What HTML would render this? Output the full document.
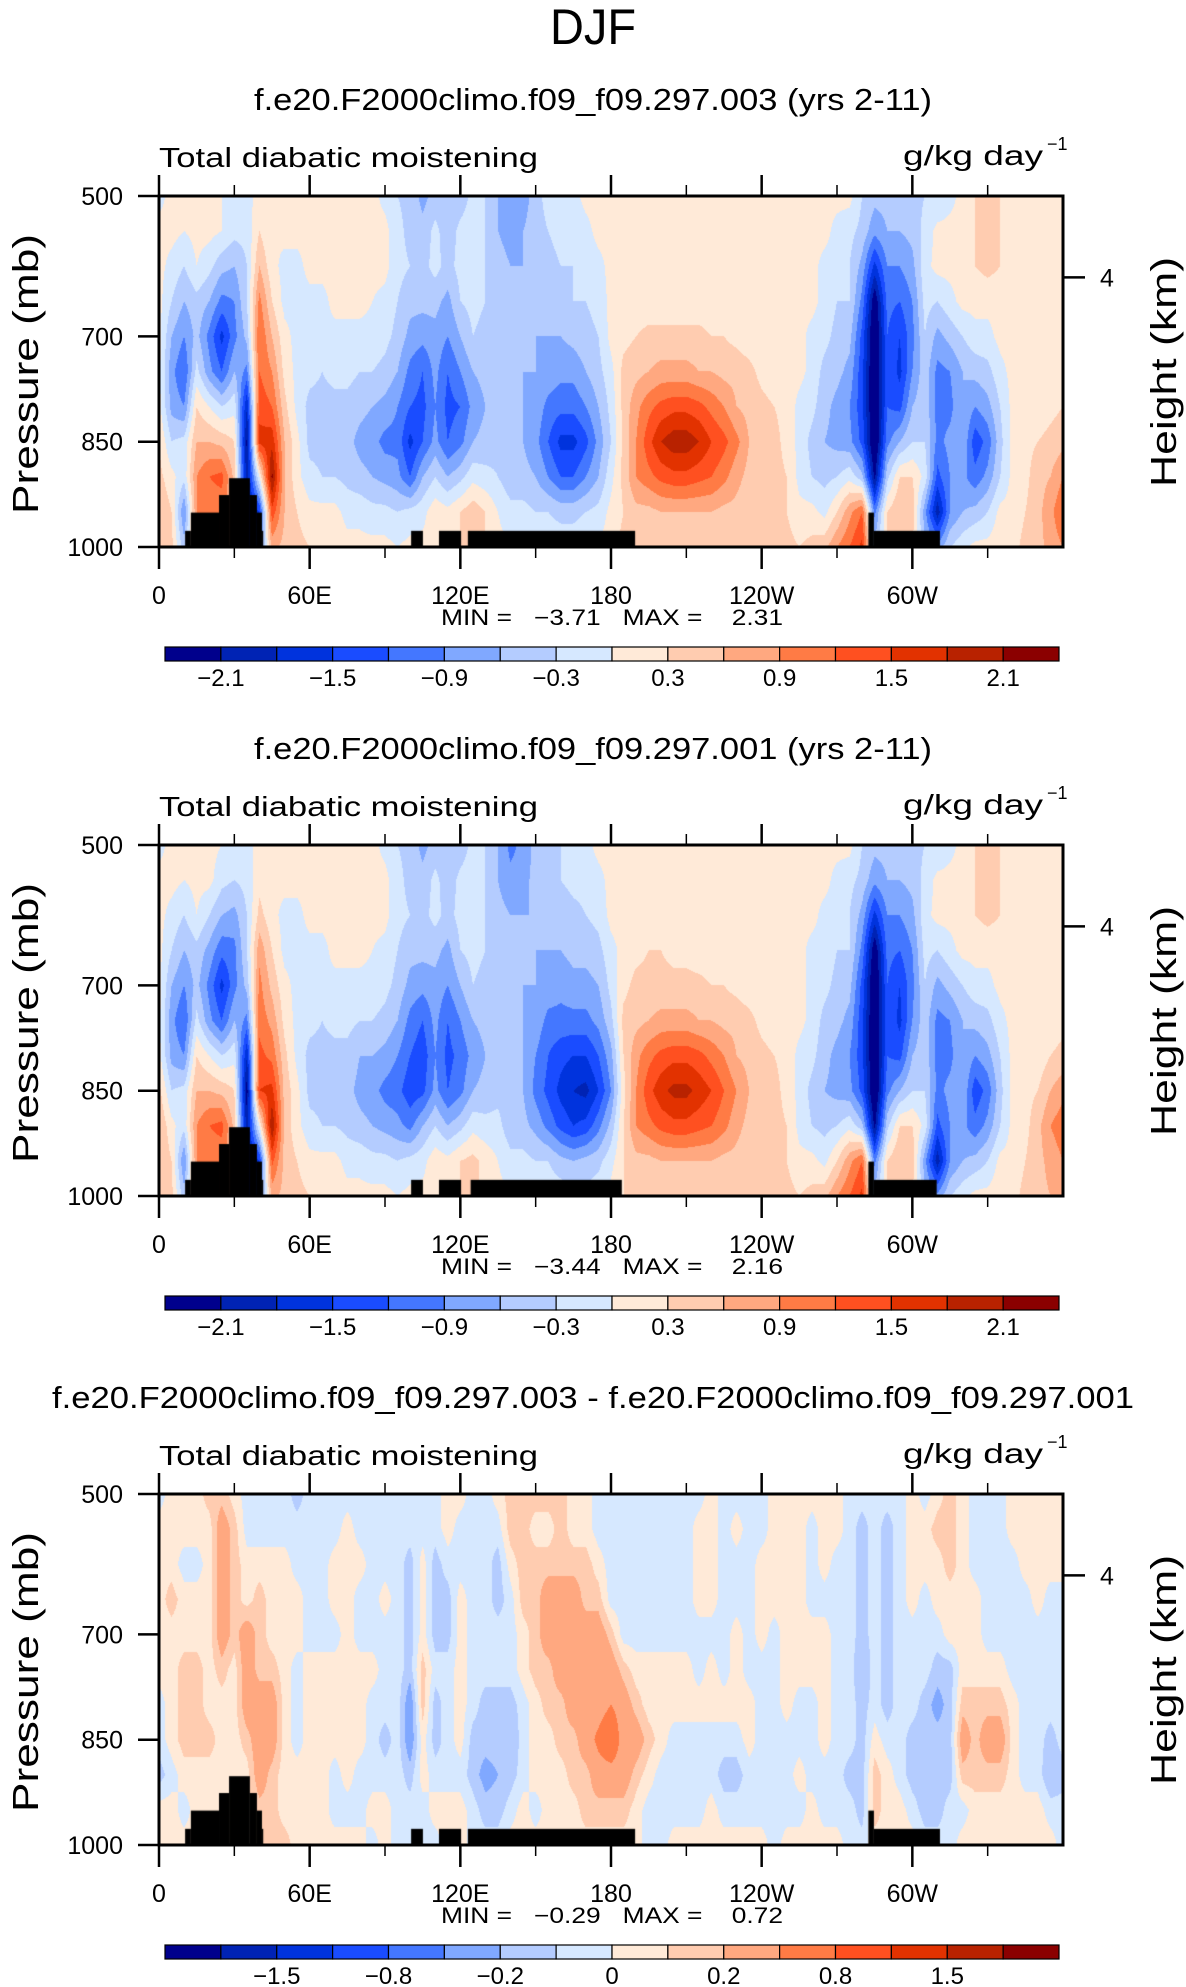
<!DOCTYPE html>
<html><head><meta charset="utf-8">
<style>
html,body{margin:0;padding:0;background:#fff;}
#root{position:relative;width:1186px;height:1987px;overflow:hidden;background:#fff;}
canvas{position:absolute;}
svg{position:absolute;left:0;top:0;}
text{font-family:"Liberation Sans",sans-serif;fill:#000;}
</style></head>
<body>
<div id="root">
<canvas id="c1"></canvas>
<canvas id="c2"></canvas>
<canvas id="c3"></canvas>
<svg id="ov" width="1186" height="1987">
<text x="593" y="44" text-anchor="middle" font-size="50" textLength="86" lengthAdjust="spacingAndGlyphs" style="font-weight:300">DJF</text>
</svg>
</div>
<script>
// ---------- data ----------
const pressureLevels = [500,550,600,650,700,750,800,850,900,950,1000];
const gridLonStep = 5;
const levelsMain = [-2.1,-1.8,-1.5,-1.2,-0.9,-0.6,-0.3,0,0.3,0.6,0.9,1.2,1.5,1.8,2.1];
const levelsDiff = [-2,-1.5,-1,-0.8,-0.4,-0.2,-0.1,0,0.1,0.2,0.4,0.8,1,1.5,2];
const cbLabelsMain = ["−2.1","−1.5","−0.9","−0.3","0.3","0.9","1.5","2.1"];
const cbLabelIdxMain = [0,2,4,6,8,10,12,14];
const cbLabelsDiff = ["−1.5","−0.8","−0.2","0","0.2","0.8","1.5"];
const cbLabelIdxDiff = [1,3,5,7,9,11,13];
const colors = ["#00008c","#0023b4","#0033dd","#1a4cff","#4477ff","#80a8ff","#b4ccff","#d6e8ff","#ffead8","#ffccb0","#ffa880","#ff7b45","#ff5020","#e23200","#b82200","#8b0000"];
const xTickLons = [0,60,120,180,240,300];
const xTickLabels = ["0","60E","120E","180","120W","60W"];
const xMinorLons = [30,90,150,210,270,330];
const yTickP = [500,700,850,1000];
const yTickLabels = ["500","700","850","1000"];
const heightTickP = [616];
const heightTickLabels = ["4"];
const titles = ["f.e20.F2000climo.f09_f09.297.003 (yrs 2-11)","f.e20.F2000climo.f09_f09.297.001 (yrs 2-11)","f.e20.F2000climo.f09_f09.297.003 - f.e20.F2000climo.f09_f09.297.001"];
const minVals = ["−3.71","−3.44","−0.29"];
const maxVals = ["2.31","2.16","0.72"];

// terrain: [lonStart, lonEnd, topPressure]
const terrain1 = [[10.4,12.7,977],[12.7,23.9,951],[23.9,27.9,926],[27.9,36.2,902],[36.2,39,926],[39,41,951],[41,41.5,977],[100.4,105.1,977],[111.5,120.3,977],[123,189.6,977],[282.5,284.7,951],[284.7,311,977]];
const terrain2 = [[10.4,12.7,977],[12.7,23.9,951],[23.9,27.9,926],[27.9,36.2,902],[36.2,39,926],[39,41,951],[41,41.5,977],[100.4,105.1,977],[111.5,120.3,977],[124.1,184.3,977],[282.5,284.7,951],[284.7,309.7,977]];
const terrain3 = terrain1;

// fields: one vertical profile (500..1000 mb) per 5 deg of longitude, 0..360
const field1 = [
[-0.1,0.1,0.1,0.1,0.1,0.1,0.1,0.3,0.4,0.6,0.6],
[0.1,0.1,-0.1,-0.3,-0.6,-0.8,-0.7,-0.3,0.1,0.3,0.4],
[0.1,0.0,-0.3,-0.6,-0.9,-1.2,-0.9,-0.2,-0.2,-0.9,-0.5],
[0.1,0.1,0.0,-0.4,-0.5,-0.2,0.3,0.6,0.9,0.9,0.9],
[0.1,0.1,-0.2,-0.6,-1.0,-0.8,0.0,0.6,1.2,1.0,1.0],
[0.0,0.0,-0.5,-1.0,-1.6,-1.2,-0.3,0.5,1.3,1.0,1.0],
[-0.1,-0.2,-0.6,-0.9,-1.0,-0.6,-0.1,0.3,0.5,0.5,0.5],
[-0.1,-0.2,-0.3,-0.3,-0.5,-1.0,-1.8,-2.2,-2.0,-2.0,-2.0],
[0.1,0.3,0.6,1.0,1.2,1.2,1.4,1.6,0.0,-1.5,-1.0],
[0.0,0.0,0.1,0.3,0.6,0.9,1.2,1.7,2.2,1.4,0.7],
[0.1,0.1,-0.1,-0.1,0.1,0.2,0.4,0.6,0.6,0.6,0.5],
[0.1,0.1,-0.1,-0.1,-0.1,-0.1,-0.1,0.1,0.1,0.3,0.4],
[0.1,0.1,0.1,-0.1,-0.1,-0.2,-0.4,-0.4,-0.2,0.1,0.3],
[0.1,0.1,0.1,-0.1,-0.1,-0.3,-0.4,-0.4,-0.3,0.1,0.2],
[0.1,0.1,0.1,0.1,-0.1,-0.2,-0.4,-0.4,-0.3,0.1,0.2],
[0.1,0.1,0.1,0.1,-0.1,-0.2,-0.4,-0.5,-0.4,-0.1,0.1],
[0.1,0.1,0.1,0.1,-0.1,-0.3,-0.5,-0.7,-0.5,-0.1,0.1],
[0.1,0.1,0.1,0.0,-0.1,-0.3,-0.6,-0.8,-0.6,-0.2,0.1],
[-0.1,0.1,0.1,-0.1,-0.2,-0.4,-0.7,-1.0,-0.7,-0.2,0.1],
[-0.3,-0.2,-0.2,-0.3,-0.4,-0.6,-0.9,-1.0,-0.8,-0.3,0.0],
[-0.4,-0.4,-0.3,-0.5,-0.7,-1.0,-1.2,-1.6,-1.2,-0.2,0.1],
[-0.7,-0.5,-0.4,-0.5,-0.8,-1.2,-1.3,-1.2,-0.6,-0.1,0.1],
[-0.5,-0.2,-0.2,-0.5,-0.7,-0.8,-0.9,-0.8,-0.3,0.2,0.1],
[-0.6,-0.5,-0.4,-0.7,-0.9,-1.2,-1.3,-1.2,-0.6,0.1,0.2],
[-0.5,-0.2,-0.2,-0.3,-0.6,-0.9,-1.2,-1.0,-0.4,0.3,0.3],
[-0.2,-0.1,-0.1,-0.2,-0.3,-0.6,-0.8,-0.6,-0.1,0.5,0.5],
[-0.3,-0.3,-0.3,-0.3,-0.4,-0.5,-0.6,-0.5,-0.2,0.3,0.3],
[-0.6,-0.6,-0.5,-0.4,-0.4,-0.4,-0.5,-0.4,-0.3,0.0,0.1],
[-0.9,-0.7,-0.6,-0.6,-0.6,-0.6,-0.6,-0.6,-0.5,-0.2,0.0],
[-0.8,-0.6,-0.6,-0.6,-0.6,-0.6,-0.6,-0.6,-0.5,-0.2,0.0],
[-0.4,-0.4,-0.6,-0.6,-0.6,-0.6,-0.7,-0.8,-0.6,-0.3,-0.1],
[-0.2,-0.3,-0.4,-0.5,-0.6,-0.7,-1.0,-1.2,-0.9,-0.3,-0.1],
[-0.2,-0.2,-0.3,-0.4,-0.6,-0.8,-1.1,-1.6,-1.2,-0.4,-0.1],
[-0.1,-0.2,-0.3,-0.3,-0.5,-0.8,-1.1,-1.6,-1.2,-0.4,-0.1],
[0.1,-0.1,-0.2,-0.3,-0.4,-0.6,-0.9,-1.3,-0.9,-0.3,0.0],
[0.1,0.1,-0.1,-0.2,-0.3,-0.4,-0.6,-0.8,-0.6,-0.2,0.0],
[0.1,0.1,0.1,0.1,0.1,-0.1,-0.2,-0.3,-0.1,0.1,0.2],
[0.1,0.1,0.1,0.1,0.2,0.4,0.4,0.4,0.4,0.3,0.4],
[0.1,0.1,0.1,0.1,0.3,0.5,0.8,0.9,0.9,0.5,0.5],
[0.1,0.1,0.1,0.1,0.4,0.6,1.1,1.4,1.1,0.5,0.5],
[0.1,0.1,0.1,0.1,0.4,0.7,1.3,1.8,1.3,0.6,0.3],
[0.1,0.1,0.1,0.1,0.4,0.7,1.4,2.0,1.4,0.6,0.3],
[0.1,0.1,0.1,0.1,0.4,0.7,1.4,2.0,1.4,0.6,0.4],
[0.1,0.1,0.1,0.1,0.4,0.6,1.3,1.8,1.3,0.6,0.5],
[0.1,0.1,0.1,0.1,0.3,0.6,1.1,1.5,1.2,0.6,0.5],
[0.1,0.1,0.1,0.1,0.3,0.5,0.9,1.3,1.0,0.5,0.5],
[0.1,0.1,0.1,0.1,0.2,0.5,0.6,1.0,0.7,0.5,0.5],
[0.1,0.1,0.1,0.1,0.1,0.4,0.5,0.6,0.5,0.4,0.5],
[0.1,0.1,0.1,0.1,0.1,0.2,0.4,0.5,0.5,0.4,0.4],
[0.1,0.1,0.1,0.1,0.1,0.1,0.3,0.4,0.4,0.3,0.4],
[0.1,0.1,0.1,0.1,0.1,0.1,0.2,0.2,0.3,0.3,0.4],
[0.1,0.1,0.1,0.1,0.1,0.1,-0.1,-0.1,-0.1,0.1,0.3],
[0.1,0.1,0.1,0.1,-0.1,-0.1,-0.2,-0.4,-0.3,0.1,0.4],
[0.1,0.1,-0.1,-0.1,-0.2,-0.4,-0.5,-0.6,-0.4,-0.1,0.5],
[0.1,-0.1,-0.1,-0.3,-0.4,-0.5,-0.7,-0.7,-0.3,0.3,0.9],
[0.1,-0.2,-0.3,-0.3,-0.5,-0.7,-0.9,-0.8,-0.1,0.8,1.2],
[-0.3,-0.4,-0.7,-1.0,-1.3,-1.4,-1.4,-1.3,-0.5,1.2,1.6],
[-0.5,-0.8,-1.6,-2.4,-2.6,-2.6,-2.6,-2.6,-2.2,-1.0,-0.5],
[-0.5,-0.6,-0.9,-1.1,-1.2,-1.2,-1.2,-1.0,-0.4,0.3,0.3],
[-0.4,-0.6,-0.9,-1.2,-1.5,-1.6,-1.3,-0.6,0.3,0.6,0.5],
[-0.4,-0.5,-0.7,-0.9,-1.0,-0.9,-0.6,-0.3,0.3,0.5,0.3],
[-0.3,-0.2,-0.1,-0.2,-0.3,-0.4,-0.4,-0.3,-0.1,-0.8,-0.5],
[-0.3,0.1,0.1,-0.3,-0.7,-1.0,-1.0,-1.0,-1.3,-2.0,-0.8],
[-0.1,0.1,0.1,-0.1,-0.5,-0.9,-1.0,-0.8,-0.9,-0.9,-0.3],
[0.1,0.1,0.1,0.1,-0.3,-0.6,-0.6,-0.6,-0.8,-0.6,-0.1],
[0.3,0.3,0.3,0.1,-0.1,-0.5,-0.9,-1.4,-1.1,-0.5,0.1],
[0.4,0.4,0.4,0.1,-0.1,-0.4,-0.7,-1.1,-0.8,-0.3,0.1],
[0.3,0.3,0.3,0.1,0.1,-0.1,-0.3,-0.4,-0.3,0.1,0.2],
[0.1,0.1,0.1,0.1,0.1,0.1,0.1,0.1,0.1,0.1,0.2],
[0.1,0.1,0.1,0.1,0.1,0.1,0.1,0.2,0.2,0.3,0.4],
[0.1,0.1,0.1,0.1,0.1,0.1,0.1,0.3,0.5,0.5,0.5],
[0.1,0.1,0.1,0.1,0.1,0.1,0.2,0.4,0.6,0.8,0.7],
[0.1,0.1,0.1,0.1,0.1,0.1,0.3,0.5,0.9,1.2,0.9]
];
const field2 = [
[-0.1,0.1,0.1,0.1,0.1,0.1,0.1,0.4,0.6,0.6,0.6],
[0.1,0.1,-0.1,-0.3,-0.6,-0.8,-0.7,-0.3,0.1,0.3,0.4],
[0.1,0.0,-0.3,-0.6,-0.9,-1.2,-0.9,-0.2,-0.2,-0.9,-0.5],
[0.1,0.1,0.0,-0.4,-0.5,-0.2,0.3,0.6,0.9,0.9,0.9],
[0.1,0.1,-0.3,-0.7,-1.0,-0.8,0.0,0.6,1.2,1.0,1.0],
[0.0,-0.2,-0.6,-1.1,-1.6,-1.2,-0.3,0.5,1.3,1.0,1.0],
[-0.1,-0.3,-0.7,-1.0,-1.0,-0.6,-0.1,0.3,0.5,0.5,0.5],
[-0.1,-0.2,-0.3,-0.3,-0.5,-1.0,-1.8,-2.3,-2.0,-2.0,-2.0],
[0.1,0.2,0.4,0.8,1.0,1.1,1.3,1.5,0.0,-1.5,-1.0],
[0.1,0.1,0.1,0.3,0.5,0.8,1.1,1.6,2.1,1.3,0.7],
[0.1,0.1,-0.1,-0.1,0.1,0.2,0.4,0.5,0.5,0.5,0.5],
[0.1,0.1,-0.1,-0.1,-0.1,-0.1,-0.1,0.1,0.1,0.3,0.4],
[0.1,0.1,0.1,-0.1,-0.1,-0.2,-0.4,-0.4,-0.2,0.1,0.3],
[0.1,0.1,0.1,-0.1,-0.1,-0.3,-0.4,-0.4,-0.3,0.1,0.2],
[0.1,0.1,0.1,0.1,-0.1,-0.2,-0.4,-0.4,-0.3,0.1,0.2],
[0.1,0.1,0.1,0.1,-0.1,-0.2,-0.4,-0.5,-0.4,-0.1,0.1],
[0.1,0.1,0.1,0.1,-0.1,-0.3,-0.6,-0.7,-0.5,-0.1,0.1],
[0.1,0.1,0.1,0.0,-0.1,-0.3,-0.6,-0.8,-0.6,-0.2,0.1],
[-0.1,0.1,0.1,-0.1,-0.2,-0.4,-0.7,-1.0,-0.7,-0.2,0.1],
[-0.3,-0.2,-0.2,-0.3,-0.4,-0.6,-0.9,-1.1,-0.8,-0.3,0.0],
[-0.4,-0.4,-0.3,-0.5,-0.7,-1.0,-1.2,-1.4,-1.0,-0.2,0.1],
[-0.7,-0.5,-0.4,-0.5,-0.8,-1.2,-1.4,-1.3,-0.6,-0.1,0.1],
[-0.5,-0.2,-0.2,-0.5,-0.7,-0.8,-0.9,-0.8,-0.3,0.2,0.1],
[-0.6,-0.5,-0.4,-0.7,-0.9,-1.2,-1.3,-1.2,-0.6,0.1,0.2],
[-0.5,-0.2,-0.2,-0.3,-0.6,-0.9,-1.1,-1.0,-0.4,0.3,0.3],
[-0.2,-0.1,-0.1,-0.2,-0.3,-0.6,-0.8,-0.6,-0.1,0.4,0.4],
[-0.3,-0.3,-0.3,-0.3,-0.4,-0.5,-0.6,-0.5,-0.2,0.2,0.2],
[-0.6,-0.6,-0.5,-0.4,-0.4,-0.4,-0.5,-0.4,-0.2,0.0,0.1],
[-1.0,-0.8,-0.6,-0.6,-0.6,-0.6,-0.6,-0.5,-0.5,-0.2,0.0],
[-0.8,-0.7,-0.6,-0.6,-0.6,-0.6,-0.6,-0.6,-0.5,-0.2,0.0],
[-0.5,-0.5,-0.6,-0.6,-0.6,-0.7,-0.9,-1.0,-0.7,-0.3,-0.1],
[-0.3,-0.4,-0.5,-0.6,-0.7,-1.0,-1.2,-1.3,-1.0,-0.3,-0.1],
[-0.3,-0.3,-0.5,-0.6,-0.8,-1.0,-1.4,-1.6,-1.3,-0.5,-0.1],
[-0.2,-0.2,-0.4,-0.5,-0.7,-1.0,-1.5,-1.8,-1.5,-0.6,-0.2],
[-0.1,-0.2,-0.3,-0.5,-0.7,-1.0,-1.5,-1.9,-1.4,-0.5,-0.2],
[0.1,-0.1,-0.2,-0.4,-0.6,-0.8,-1.2,-1.5,-1.0,-0.4,-0.1],
[0.1,0.1,0.1,-0.1,-0.2,-0.4,-0.7,-0.9,-0.5,-0.1,0.1],
[0.1,0.1,0.1,0.1,0.2,0.4,0.3,0.2,0.3,0.3,0.3],
[0.1,0.1,0.1,0.2,0.4,0.5,0.8,0.9,0.9,0.5,0.5],
[0.1,0.1,0.1,0.3,0.4,0.6,1.1,1.4,1.1,0.5,0.5],
[0.1,0.1,0.1,0.3,0.4,0.7,1.3,1.7,1.3,0.6,0.4],
[0.1,0.1,0.1,0.2,0.4,0.7,1.4,1.9,1.4,0.6,0.4],
[0.1,0.1,0.1,0.2,0.4,0.7,1.4,1.9,1.4,0.6,0.4],
[0.1,0.1,0.1,0.1,0.4,0.6,1.3,1.7,1.3,0.6,0.5],
[0.1,0.1,0.1,0.1,0.3,0.6,1.1,1.5,1.2,0.6,0.5],
[0.1,0.1,0.1,0.1,0.3,0.5,0.9,1.2,1.0,0.5,0.5],
[0.1,0.1,0.1,0.1,0.2,0.5,0.6,0.9,0.7,0.5,0.5],
[0.1,0.1,0.1,0.1,0.1,0.4,0.5,0.6,0.5,0.4,0.5],
[0.1,0.1,0.1,0.1,0.1,0.2,0.4,0.5,0.5,0.4,0.4],
[0.1,0.1,0.1,0.1,0.1,0.1,0.3,0.4,0.4,0.3,0.4],
[0.1,0.1,0.1,0.1,0.1,0.1,0.2,0.2,0.3,0.3,0.4],
[0.1,0.1,0.1,0.1,0.1,0.1,-0.1,-0.1,-0.1,0.1,0.3],
[0.1,0.1,0.1,-0.1,-0.1,-0.1,-0.2,-0.4,-0.3,0.1,0.4],
[0.1,0.1,-0.1,-0.1,-0.2,-0.4,-0.5,-0.6,-0.4,-0.1,0.5],
[0.1,-0.1,-0.1,-0.3,-0.4,-0.5,-0.7,-0.7,-0.3,0.3,0.9],
[0.1,-0.2,-0.3,-0.3,-0.5,-0.7,-0.9,-0.8,-0.1,0.8,1.2],
[-0.3,-0.4,-0.7,-1.0,-1.3,-1.4,-1.4,-1.3,-0.5,1.2,1.6],
[-0.5,-0.8,-1.6,-2.4,-2.6,-2.6,-2.6,-2.6,-2.2,-1.0,-0.5],
[-0.5,-0.6,-0.9,-1.1,-1.2,-1.2,-1.2,-1.0,-0.4,0.3,0.3],
[-0.4,-0.6,-0.9,-1.2,-1.5,-1.6,-1.3,-0.6,0.3,0.6,0.5],
[-0.4,-0.5,-0.7,-0.9,-1.0,-0.9,-0.6,-0.3,0.3,0.5,0.3],
[-0.3,-0.2,-0.1,-0.2,-0.3,-0.4,-0.4,-0.3,-0.1,-0.8,-0.5],
[-0.3,0.1,0.1,-0.3,-0.7,-1.0,-1.0,-1.0,-1.3,-2.0,-0.8],
[-0.1,0.1,0.1,-0.1,-0.5,-0.9,-1.0,-0.8,-0.9,-0.9,-0.3],
[0.1,0.1,0.1,0.1,-0.3,-0.6,-0.6,-0.6,-0.8,-0.6,-0.1],
[0.3,0.3,0.3,0.1,-0.1,-0.5,-0.9,-1.4,-1.1,-0.5,0.1],
[0.4,0.4,0.4,0.1,-0.1,-0.4,-0.7,-1.1,-0.8,-0.3,0.1],
[0.3,0.3,0.3,0.1,0.1,-0.1,-0.3,-0.4,-0.3,0.1,0.2],
[0.1,0.1,0.1,0.1,0.1,0.1,0.1,0.1,0.1,0.1,0.2],
[0.1,0.1,0.1,0.1,0.1,0.1,0.1,0.2,0.2,0.3,0.4],
[0.1,0.1,0.1,0.1,0.1,0.1,0.1,0.3,0.5,0.5,0.5],
[0.1,0.1,0.1,0.1,0.1,0.1,0.3,0.6,0.9,0.7,0.6],
[0.1,0.1,0.1,0.1,0.1,0.2,0.4,0.8,1.1,0.9,0.6]
];
const field3 = [
[-0.05,0.05,0.05,0.05,0.05,0.05,-0.05,-0.05,-0.15,0.05,0.05],
[0.05,0.05,0.05,0.15,0.05,0.05,0.05,0.05,-0.05,0.05,0.05],
[0.05,0.05,-0.05,0.05,0.05,0.15,0.15,0.15,0.05,-0.05,0.05],
[0.05,0.05,-0.05,0.05,0.05,0.15,0.15,0.15,0.05,0.05,0.05],
[0.15,0.05,0.05,0.05,0.05,0.05,0.05,0.15,0.05,0.05,0.05],
[0.15,0.3,0.3,0.3,0.3,0.15,0.05,0.05,0.05,0.05,0.05],
[0.05,0.15,0.15,0.15,0.15,0.05,0.05,0.05,0.05,0.05,0.05],
[-0.05,-0.05,0.05,0.05,0.3,0.3,0.3,0.15,0.05,0.05,0.05],
[-0.05,-0.05,0.05,0.15,0.15,0.15,0.3,0.3,0.3,0.15,0.15],
[-0.05,-0.05,0.05,0.05,0.05,0.15,0.3,0.3,0.15,0.15,0.15],
[-0.05,-0.05,0.05,0.05,0.05,0.05,0.05,0.05,0.05,0.05,0.15],
[-0.15,-0.05,-0.05,0.05,0.05,-0.05,-0.05,-0.05,0.05,0.05,0.05],
[-0.05,-0.05,-0.05,-0.05,-0.05,0.05,0.05,0.05,0.05,0.05,0.05],
[-0.05,-0.05,-0.05,-0.05,-0.05,0.05,0.05,0.05,0.05,0.05,0.05],
[-0.05,-0.05,0.05,0.05,-0.05,0.05,0.05,0.05,-0.05,-0.05,0.05],
[-0.05,0.05,0.05,0.05,0.05,0.05,0.05,0.05,0.05,-0.05,0.05],
[-0.05,-0.05,0.05,-0.05,-0.05,0.05,0.05,0.05,-0.05,-0.05,0.05],
[-0.05,-0.05,-0.05,-0.05,-0.05,0.05,-0.05,-0.05,-0.05,0.05,-0.05],
[-0.05,-0.05,-0.05,0.05,-0.05,-0.05,-0.05,-0.15,-0.05,0.05,0.05],
[-0.05,-0.05,-0.05,-0.05,-0.05,-0.05,-0.05,-0.05,-0.05,-0.05,-0.05],
[-0.05,-0.05,-0.15,-0.15,-0.15,-0.15,-0.3,-0.3,-0.15,-0.05,-0.05],
[-0.05,-0.05,0.05,0.05,0.05,0.15,0.15,0.05,0.05,-0.05,-0.05],
[-0.05,-0.05,-0.15,-0.15,-0.15,-0.05,-0.15,-0.15,-0.05,0.05,-0.05],
[0.05,0.05,-0.05,-0.15,-0.15,-0.05,-0.05,-0.05,-0.05,0.05,0.05],
[0.05,-0.05,-0.05,0.05,0.05,0.05,0.05,0.05,-0.05,0.05,0.05],
[-0.05,-0.05,-0.05,-0.05,-0.05,-0.05,-0.05,-0.15,-0.15,-0.05,-0.05],
[-0.05,-0.05,-0.05,-0.05,-0.05,-0.05,-0.15,-0.15,-0.25,-0.15,-0.05],
[0.05,-0.05,-0.15,-0.15,-0.05,-0.05,-0.15,-0.15,-0.2,-0.15,-0.05],
[0.15,0.15,0.05,-0.05,-0.05,-0.05,-0.15,-0.2,-0.15,-0.05,0.05],
[0.15,0.15,0.15,0.15,0.05,0.05,-0.05,-0.05,-0.05,0.05,0.05],
[0.15,0.05,0.15,0.15,0.15,0.15,0.05,0.05,0.05,-0.05,0.05],
[0.15,0.05,0.15,0.3,0.3,0.15,0.15,0.05,0.05,0.05,0.05],
[0.15,0.15,0.15,0.3,0.3,0.3,0.15,0.15,0.05,0.05,0.05],
[0.05,0.05,0.15,0.3,0.3,0.3,0.3,0.15,0.15,0.05,0.05],
[0.05,0.05,0.15,0.15,0.3,0.3,0.3,0.3,0.15,0.15,0.05],
[-0.05,-0.05,0.05,0.15,0.3,0.3,0.3,0.45,0.3,0.15,0.05],
[-0.05,-0.05,-0.05,-0.05,0.15,0.3,0.4,0.6,0.3,0.15,0.05],
[-0.05,-0.05,-0.05,-0.05,-0.05,0.15,0.3,0.3,0.3,0.15,0.05],
[-0.05,-0.05,-0.05,-0.05,-0.05,0.05,0.15,0.3,0.15,0.05,0.05],
[-0.05,-0.05,-0.05,-0.05,-0.05,0.05,0.05,0.15,0.05,-0.05,-0.05],
[-0.05,-0.05,-0.05,-0.05,-0.05,0.05,0.05,0.05,-0.05,-0.05,-0.05],
[-0.05,-0.05,-0.05,-0.05,-0.05,0.05,0.05,-0.05,-0.05,-0.05,0.05],
[-0.05,-0.05,-0.05,-0.05,-0.05,0.05,0.05,-0.05,-0.05,-0.05,0.05],
[-0.05,0.05,0.05,0.05,-0.05,-0.05,0.05,-0.05,-0.05,-0.05,0.05],
[0.05,0.05,0.05,0.05,-0.05,0.05,0.05,-0.05,-0.05,0.05,0.05],
[-0.05,-0.05,-0.05,-0.05,-0.05,-0.05,0.05,-0.05,-0.15,-0.05,0.05],
[-0.05,0.05,-0.05,-0.05,0.05,0.05,0.05,-0.05,-0.15,-0.05,0.05],
[-0.05,-0.05,-0.05,-0.05,-0.05,-0.05,0.05,0.05,-0.05,-0.05,0.05],
[-0.05,-0.05,0.05,0.05,0.05,-0.05,-0.05,-0.05,-0.05,-0.05,0.05],
[0.05,0.05,0.05,0.05,-0.05,-0.05,-0.05,-0.05,-0.05,-0.05,-0.05],
[0.05,0.05,0.05,0.05,0.05,0.05,0.05,-0.05,-0.05,-0.05,0.05],
[0.05,0.05,0.05,0.05,0.05,0.05,-0.05,-0.05,0.05,-0.05,0.05],
[0.05,-0.05,-0.05,-0.05,0.05,0.05,-0.05,-0.05,-0.05,0.05,0.05],
[0.05,0.05,0.05,-0.05,0.05,0.05,0.05,0.05,-0.05,-0.05,0.05],
[0.05,0.05,-0.05,-0.05,-0.05,-0.05,-0.05,-0.05,-0.05,-0.05,0.05],
[-0.05,-0.05,-0.05,-0.05,-0.05,-0.05,-0.05,-0.05,-0.15,-0.05,-0.05],
[-0.05,-0.15,-0.15,-0.15,-0.15,-0.2,-0.15,-0.15,-0.15,-0.15,-0.05],
[-0.05,-0.05,-0.05,-0.05,-0.05,-0.05,-0.05,0.05,0.15,0.15,0.05],
[-0.05,-0.15,-0.15,-0.15,-0.15,-0.15,-0.15,-0.05,0.05,0.05,0.05],
[-0.05,-0.05,-0.05,-0.05,-0.05,-0.05,-0.05,-0.05,-0.05,0.05,0.05],
[0.05,0.05,0.05,0.05,-0.05,-0.05,-0.05,-0.15,-0.15,-0.05,0.05],
[-0.05,0.05,0.05,-0.05,-0.05,-0.05,-0.15,-0.15,-0.15,-0.15,-0.05],
[0.05,0.15,0.05,0.05,-0.05,-0.15,-0.25,-0.15,-0.15,-0.15,-0.05],
[0.15,0.15,0.15,0.05,0.05,-0.15,-0.15,-0.15,-0.15,-0.05,-0.05],
[0.05,0.05,0.05,0.05,0.05,0.05,0.15,0.3,0.15,-0.05,0.05],
[-0.05,-0.05,-0.05,0.05,0.05,0.05,0.15,0.15,0.15,0.05,0.05],
[-0.05,-0.05,-0.05,-0.05,-0.05,0.05,0.15,0.3,0.15,0.05,0.05],
[-0.05,-0.05,-0.05,-0.05,-0.05,0.05,0.15,0.3,0.15,0.05,0.05],
[0.05,0.05,-0.05,-0.05,-0.05,-0.05,0.05,0.05,0.05,0.05,0.05],
[0.05,0.05,0.05,-0.05,-0.05,-0.05,-0.05,-0.05,-0.05,0.05,0.05],
[0.05,0.05,0.05,0.05,-0.05,-0.05,-0.05,-0.05,-0.05,0.05,0.05],
[0.05,0.05,0.05,-0.05,-0.05,-0.05,-0.05,-0.15,-0.2,-0.05,0.05],
[0.05,0.05,0.05,-0.05,-0.05,-0.05,-0.05,-0.05,-0.15,-0.05,-0.05]
];

// ---------- layout ----------
const X0 = 159, PW = 904, PH = 351;
const panelTops = [196, 845, 1494];
const NS = "http://www.w3.org/2000/svg";
const svg = document.getElementById('ov');

function xScale(lon){ return X0 + lon/360*PW; }
function yScale(p, top){ return top + (p-500)/500*PH; }

function binOf(v, levels){ let b=0; for(const l of levels){ if(v>=l) b++; } return b; }
function sample(field, lon, p){
  const fi = lon/gridLonStep, fj = (p-500)/50;
  let i0 = Math.min(Math.floor(fi), field.length-2), j0 = Math.min(Math.floor(fj), pressureLevels.length-2);
  const ti = fi-i0, tj = fj-j0;
  const a=field[i0][j0], b=field[i0+1][j0], c=field[i0][j0+1], d=field[i0+1][j0+1];
  return (a*(1-ti)+b*ti)*(1-tj) + (c*(1-ti)+d*ti)*tj;
}
function hexRGB(h){ return [parseInt(h.substr(1,2),16),parseInt(h.substr(3,2),16),parseInt(h.substr(5,2),16)]; }
const rgb = colors.map(hexRGB);

function drawField(canvasId, field, levels, terrain, top){
  const cv = document.getElementById(canvasId);
  cv.width = PW; cv.height = PH;
  cv.style.left = X0+'px'; cv.style.top = top+'px';
  const ctx = cv.getContext('2d');
  const img = ctx.createImageData(PW, PH);
  for(let py=0; py<PH; py++){
    const p = 500 + (py+0.5)/PH*500;
    for(let px=0; px<PW; px++){
      const lon = (px+0.5)/PW*360;
      const c = rgb[binOf(sample(field, lon, p), levels)];
      const k = (py*PW+px)*4;
      img.data[k]=c[0]; img.data[k+1]=c[1]; img.data[k+2]=c[2]; img.data[k+3]=255;
    }
  }
  ctx.putImageData(img,0,0);
  ctx.fillStyle = '#000';
  for(const t of terrain){
    const x1 = xScale(t[0])-X0, x2 = xScale(t[1])-X0, y1 = yScale(t[2], top)-top;
    ctx.fillRect(x1, y1, x2-x1, PH-y1);
  }
}

function el(tag, attrs, txt){
  const e = document.createElementNS(NS, tag);
  for(const k in attrs) e.setAttribute(k, attrs[k]);
  if(txt!==undefined) e.textContent = txt;
  svg.appendChild(e);
  return e;
}

function drawAxes(idx, top, cbLevels, cbLabels, cbIdx){
  const off = top - 196;
  let e;
  e = el('text',{x:593,y:110+off,'text-anchor':'middle','font-size':31,textLength:(idx===2?1082:678),lengthAdjust:'spacingAndGlyphs'}, titles[idx]);
  
  
  e = el('text',{x:159,y:167+off,'font-size':28,textLength:379,lengthAdjust:'spacingAndGlyphs','style':'font-weight:300'}, 'Total diabatic moistening');
  
  
  e = el('text',{x:903,y:165+off,'font-size':28,textLength:140,lengthAdjust:'spacingAndGlyphs','style':'font-weight:300'}, 'g/kg day');
  
  
  e = el('text',{x:1047,y:150+off,'font-size':18}, '−1');
  
  
  e = el('rect',{x:X0,y:top,width:PW,height:PH,fill:'none',stroke:'#000','stroke-width':3});
  
  
  xTickLons.forEach((lon,i)=>{
    const x = xScale(lon);
    let t = el('line',{x1:x,x2:x,y1:top-21,y2:top,stroke:'#000','stroke-width':2.5});
    
    
    t = el('line',{x1:x,x2:x,y1:top+PH,y2:top+PH+22,stroke:'#000','stroke-width':2.5});
    
    
    t = el('text',{x:x,y:top+PH+57,'text-anchor':'middle','font-size':25}, xTickLabels[i]);
    
    
  });
  xMinorLons.forEach(lon=>{
    const x = xScale(lon);
    let t = el('line',{x1:x,x2:x,y1:top-11,y2:top,stroke:'#000','stroke-width':1.5});
    
    
    t = el('line',{x1:x,x2:x,y1:top+PH,y2:top+PH+11,stroke:'#000','stroke-width':1.5});
    
    
  });
  yTickP.forEach((p,i)=>{
    const y = yScale(p, top);
    let t = el('line',{x1:X0-21,x2:X0,y1:y,y2:y,stroke:'#000','stroke-width':2.5});
    
    
    t = el('text',{x:123,y:y+9,'text-anchor':'end','font-size':25}, yTickLabels[i]);
    
    
  });
  heightTickP.forEach((p,i)=>{
    const y = yScale(p, top);
    let t = el('line',{x1:X0+PW,x2:X0+PW+22,y1:y,y2:y,stroke:'#000','stroke-width':2.5});
    
    
    t = el('text',{x:1100,y:y+9,'font-size':25}, heightTickLabels[i]);
    
    
  });
  e = el('text',{x:0,y:0,'text-anchor':'middle','font-size':36,textLength:280,lengthAdjust:'spacingAndGlyphs',transform:`translate(38,${374+off}) rotate(-90)`,'style':'font-weight:300'}, 'Pressure (mb)');
  
  
  e = el('text',{x:0,y:0,'text-anchor':'middle','font-size':36,textLength:230,lengthAdjust:'spacingAndGlyphs',transform:`translate(1176,${372+off}) rotate(-90)`,'style':'font-weight:300'}, 'Height (km)');
  
  
  e = el('text',{x:441,y:625+off,'font-size':22,textLength:342,lengthAdjust:'spacingAndGlyphs','style':'white-space:pre'}, 'MIN =   '+minVals[idx]+'   MAX =    '+maxVals[idx]);
  
  
  const cbX = 165, cbW = 894, cbY = 647+off, cbH = 14, n = colors.length;
  for(let i=0;i<n;i++){
    const b = el('rect',{x:cbX+i*cbW/n,y:cbY,width:cbW/n,height:cbH,fill:colors[i],stroke:'#000','stroke-width':1.2});
    
    
  }
  cbIdx.forEach((bi,i)=>{
    const x = cbX + (bi+1)*cbW/n;
    const t = el('text',{x:x,y:686+off,'text-anchor':'middle','font-size':24}, cbLabels[i]);
    
    
  });
}

drawField('c1', field1, levelsMain, terrain1, panelTops[0]);
drawField('c2', field2, levelsMain, terrain2, panelTops[1]);
drawField('c3', field3, levelsDiff, terrain3, panelTops[2]);
drawAxes(0, panelTops[0], levelsMain, cbLabelsMain, cbLabelIdxMain);
drawAxes(1, panelTops[1], levelsMain, cbLabelsMain, cbLabelIdxMain);
drawAxes(2, panelTops[2], levelsDiff, cbLabelsDiff, cbLabelIdxDiff);
</script>
</body></html>
